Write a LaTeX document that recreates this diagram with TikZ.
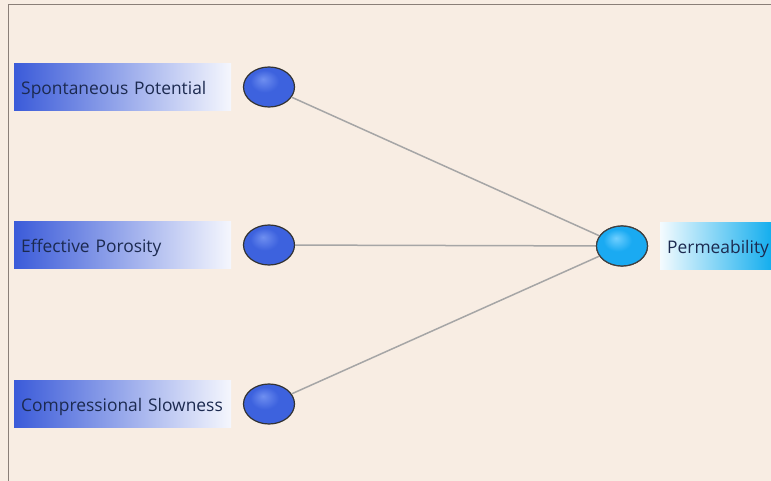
\documentclass[tikz,border=0pt]{standalone}
\usepackage{fontspec}
\setmainfont{Open Sans}
\usetikzlibrary{shapes.geometric}
\definecolor{bg}{HTML}{F8EDE3}
\definecolor{frame}{HTML}{8A7F78}
\definecolor{lblue}{HTML}{3B5BD9}
\definecolor{bbhi}{HTML}{6F8FF0}
\definecolor{bbmid}{HTML}{3D62DE}
\definecolor{bblo}{HTML}{2F4FC0}
\definecolor{bchi}{HTML}{6FCFFF}
\definecolor{bcmid}{HTML}{1AAAF2}
\definecolor{bclo}{HTML}{1290D8}
\definecolor{boxcyan}{HTML}{14AEEE}
\definecolor{txt}{HTML}{1C2A50}
\definecolor{edge}{HTML}{A6A6A6}
\pgfdeclareradialshading{blueball}{\pgfpoint{-6bp}{10bp}}{color(0bp)=(bbhi); color(14bp)=(bbmid); color(34bp)=(bbmid); color(50bp)=(bblo)}
\pgfdeclareradialshading{cyanball}{\pgfpoint{-6bp}{10bp}}{color(0bp)=(bchi); color(14bp)=(bcmid); color(34bp)=(bcmid); color(50bp)=(bclo)}
\begin{document}
\begin{tikzpicture}[x=1pt,y=-1pt,
  lbl/.style={minimum height=47pt,inner xsep=7pt,inner ysep=0pt,align=left,text height=16pt,text depth=1.6pt,text=txt,font=\fontsize{17.4}{19}\selectfont,anchor=west},
  inlabel/.style={lbl,minimum width=217pt,text width=203pt,left color=lblue,right color=white!95!lblue},
  outlabel/.style={lbl,minimum width=111pt,text width=97pt,left color=white!95!boxcyan,right color=boxcyan},
  inball/.style={ellipse,minimum width=51pt,minimum height=40pt,inner sep=0pt,draw=black!80,line width=1.2pt,shading=blueball},
  outball/.style={ellipse,minimum width=51pt,minimum height=40pt,inner sep=0pt,draw=black!75,line width=1.2pt,shading=cyanball},
  conn/.style={draw=edge,line width=1.5pt}]
\useasboundingbox (0,0) rectangle (771,481);
\fill[bg] (0,0) rectangle (771,481);
\draw[frame,line width=1pt] (8,481) -- (8,5) -- (771,5);
\node[inlabel] (l1) at (14,87) {Spontaneous Potential};
\node[inlabel] (l2) at (14,245) {Effective Porosity};
\node[inlabel] (l3) at (14,404) {Compressional Slowness};
\node[outlabel] (o) at (660,246) {Permeability};
\node[inball] (b1) at (269,87) {};
\node[inball] (b2) at (269,245) {};
\node[inball] (b3) at (269,404) {};
\node[outball] (bo) at (622,246) {};
\draw[conn] (b1) -- (bo);
\draw[conn] (b2) -- (bo);
\draw[conn] (b3) -- (bo);
\node[outball] at (bo) {};
\end{tikzpicture}
\end{document}
